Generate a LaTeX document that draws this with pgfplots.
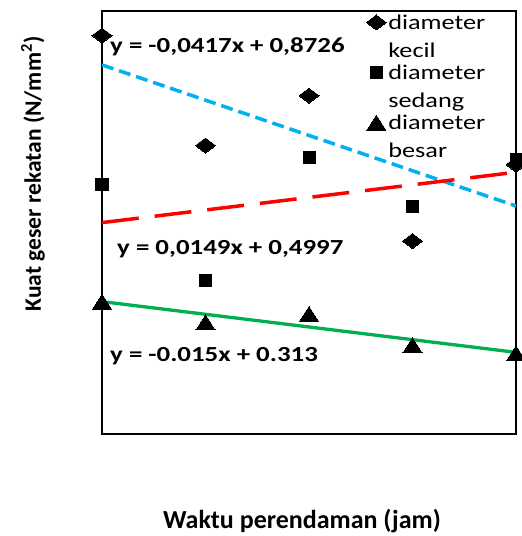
\documentclass[border=0pt]{standalone}
\usepackage{pgfplots}
\pgfplotsset{compat=1.18}
\usepackage{fontspec}
\setmainfont{Carlito}
\newfontfamily\lsp{Carlito}[FakeStretch=1.25]
\definecolor{cblue}{RGB}{0,176,240}
\definecolor{cred}{RGB}{255,0,0}
\definecolor{cgreen}{RGB}{0,176,80}
\begin{document}
\begin{tikzpicture}
\path[use as bounding box] (-102bp,-102bp) rectangle (420bp,434bp);
\begin{axis}[
  at={(0,0)}, anchor=south west,
  width=414bp, height=423bp, scale only axis,
  xmin=0, xmax=8, ymin=0, ymax=1,
  xtick=\empty, ytick=\empty,
  axis line style={line width=2.5bp, black},
  legend style={draw=none, fill=none, at={(0.638,0.996)}, anchor=north west,
    inner sep=0pt, font={\lsp\fontsize{21bp}{28bp}\selectfont},
    cells={anchor=base west, align=left}, row sep=2bp},
  legend image code/.code={\draw[#1] plot coordinates {(0bp,35bp)};},
]
% trend lines
\addplot[forget plot, cblue, line width=3.5bp, dash pattern=on 12bp off 6bp] coordinates {(0,0.8726) (8,0.5390)};
\addplot[forget plot, cred, line width=3.5bp, dash pattern=on 37bp off 16bp] coordinates {(0,0.4997) (8,0.6189)};
\addplot[forget plot, cgreen, line width=3.3bp] coordinates {(0,0.313) (8,0.193)};
% data
\addplot[only marks, black, mark=diamond*, mark size=10bp, mark options={rotate=90, line width=0pt}] coordinates {(0,0.942) (2,0.682) (4,0.800) (6,0.456) (8,0.637)};
\addlegendentry{diameter\\kecil}
\addplot[only marks, black, mark=square*, mark size=6bp, mark options={line width=0pt}] coordinates {(0,0.589) (2,0.362) (4,0.654) (6,0.539) (8,0.650)};
\addlegendentry{diameter\\sedang}
\addplot[only marks, black, mark=triangle*, mark size=11bp, mark options={yshift=-2.5bp, yscale=0.9, line width=0pt}] coordinates {(0,0.313) (2,0.264) (4,0.284) (6,0.210) (8,0.191)};
\addlegendentry{diameter\\besar}
\end{axis}
\node[anchor=base west, inner sep=0pt, font={\lsp\bfseries\fontsize{21.5bp}{24bp}\selectfont}] at (8bp,381bp) {y = -0,0417x + 0,8726};
\node[anchor=base west, inner sep=0pt, font={\lsp\bfseries\fontsize{21.5bp}{24bp}\selectfont}] at (15bp,179bp) {y = 0,0149x + 0,4997};
\node[anchor=base west, inner sep=0pt, font={\lsp\bfseries\fontsize{21.5bp}{24bp}\selectfont}] at (8bp,72bp) {y = -0.015x + 0.313};
\node[font={\bfseries\fontsize{26bp}{30bp}\selectfont}] at (200bp,-87bp) {Waktu perendaman (jam)};
\node[rotate=90, font={\bfseries\fontsize{23.5bp}{28bp}\selectfont}] at (-69bp,260bp) {Kuat geser rekatan (N/mm\textsuperscript{2})};
\end{tikzpicture}
\end{document}
